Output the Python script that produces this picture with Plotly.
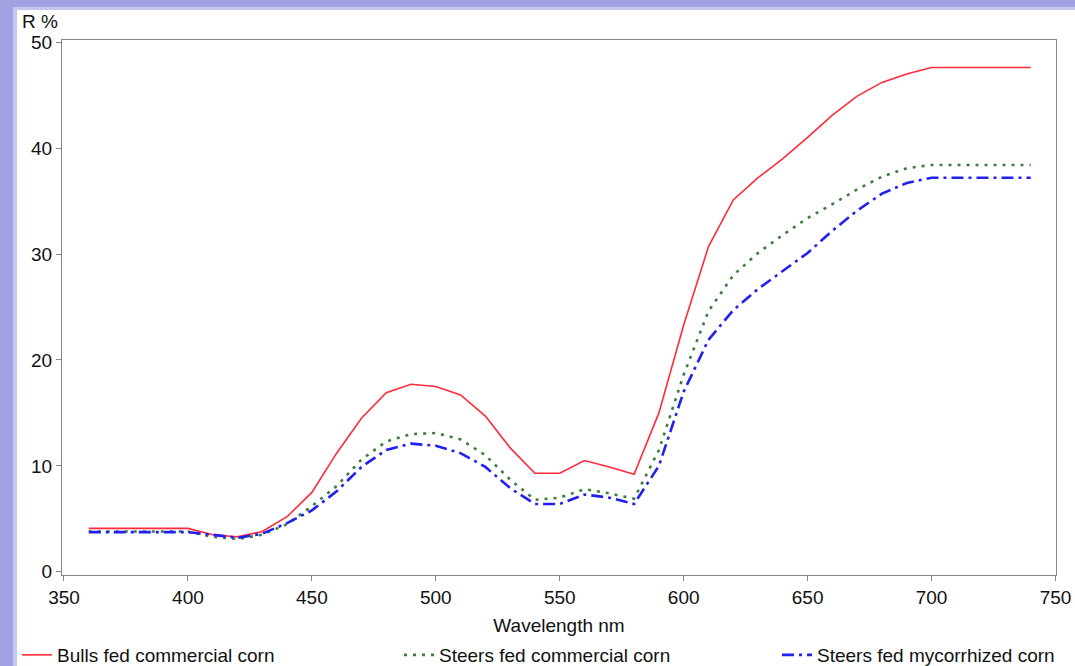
import plotly.graph_objects as go

wavelength = [360, 370, 380, 390, 400, 410, 420, 430, 440, 450, 460, 470, 480, 490, 500,
              510, 520, 530, 540, 550, 560, 570, 580, 590, 600, 610, 620, 630, 640, 650,
              660, 670, 680, 690, 700, 710, 720, 730, 740]

bulls_commercial = [4.1, 4.1, 4.1, 4.1, 4.1, 3.5, 3.3, 3.8, 5.2, 7.5, 11.2, 14.5, 16.9, 17.7, 17.5,
                    16.7, 14.7, 11.7, 9.3, 9.3, 10.5, 9.9, 9.2, 15.0, 23.3, 30.7, 35.1, 37.2, 39.0, 41.0,
                    43.1, 44.9, 46.2, 47.0, 47.6, 47.6, 47.6, 47.6, 47.6]

steers_commercial = [3.8, 3.8, 3.8, 3.8, 3.8, 3.3, 3.1, 3.5, 4.5, 6.2, 8.1, 10.6, 12.3, 13.0, 13.1,
                     12.5, 11.0, 8.7, 6.8, 7.0, 7.8, 7.4, 6.9, 11.5, 18.6, 24.6, 28.0, 30.1, 31.8, 33.4,
                     34.7, 36.1, 37.3, 38.1, 38.4, 38.4, 38.4, 38.4, 38.4]

steers_mycorrhized = [3.75, 3.75, 3.75, 3.75, 3.75, 3.5, 3.2, 3.6, 4.6, 5.8, 7.6, 9.9, 11.5, 12.1, 11.9,
                      11.2, 9.9, 7.9, 6.4, 6.4, 7.3, 7.0, 6.4, 10.0, 17.0, 21.9, 24.7, 26.7, 28.4, 30.1,
                      32.2, 34.1, 35.7, 36.7, 37.2, 37.2, 37.2, 37.2, 37.2]

series_names = ["Bulls fed commercial corn", "Steers fed commercial corn", "Steers fed mycorrhized corn"]
x_ticks = [350, 400, 450, 500, 550, 600, 650, 700, 750]
y_ticks = [0, 10, 20, 30, 40, 50]

FONT = "Liberation Sans, Arial, sans-serif"
FS = 19
W, H = 1075, 666

fig = go.Figure()
fig.add_trace(go.Scatter(x=wavelength, y=bulls_commercial, mode="lines", name=series_names[0],
                         line=dict(color="#ff2a3a", width=1.6), legend="legend"))
fig.add_trace(go.Scatter(x=wavelength, y=steers_commercial, mode="lines", name=series_names[1],
                         line=dict(color="#3d7d3d", width=2.6, dash="3px,6px"), legend="legend2"))
fig.add_trace(go.Scatter(x=wavelength, y=steers_mycorrhized, mode="lines", name=series_names[2],
                         line=dict(color="#2020f0", width=2.6, dash="12px,5px,3px,5px"), legend="legend3"))

# decorative frame (purple edge on left and top)
pw, ph = 1056 - 62, 575 - 40
def px(x):
    return (x - 62) / pw
def py(y):
    return (575 - y) / ph

shapes = [
    dict(type="rect", xref="paper", yref="paper", x0=px(0), x1=px(13), y0=py(H), y1=py(0),
         fillcolor="#a2a2e2", line=dict(width=0), layer="below"),
    dict(type="rect", xref="paper", yref="paper", x0=px(0), x1=px(W), y0=py(7), y1=py(0),
         fillcolor="#a2a2e2", line=dict(width=0), layer="below"),
    dict(type="rect", xref="paper", yref="paper", x0=px(13), x1=px(17), y0=py(H), y1=py(7),
         fillcolor="#c6c6f0", line=dict(width=0), layer="below"),
    dict(type="rect", xref="paper", yref="paper", x0=px(13), x1=px(W), y0=py(10), y1=py(7),
         fillcolor="#c6c6f0", line=dict(width=0), layer="below"),
]

def leg(xpix):
    return dict(orientation="h", xref="container", yref="container", x=xpix / W, xanchor="left",
                y=1 - 655 / H, yanchor="middle", font=dict(size=FS, family=FONT),
                bgcolor="rgba(0,0,0,0)", borderwidth=0)

fig.update_layout(
    template="none",
    width=W, height=H,
    margin=dict(l=62, r=19, t=40, b=91, autoexpand=False),
    paper_bgcolor="white", plot_bgcolor="white",
    font=dict(family=FONT, size=FS, color="#111111"),
    shapes=shapes,
    showlegend=True,
    legend=leg(17), legend2=leg(399), legend3=leg(777),
    annotations=[dict(text="R %", xref="paper", yref="paper", x=px(20), y=py(9),
                      xanchor="left", yanchor="top", showarrow=False, font=dict(size=FS))],
)

fig.update_xaxes(range=[349.2, 750.2], tickvals=x_ticks, ticktext=[str(v) for v in x_ticks],
                 automargin=False,
                 showgrid=False, zeroline=False, showline=True, linecolor="#888888", linewidth=1,
                 mirror=True, ticks="outside", ticklen=5, tickcolor="#888888",
                 title=dict(text="Wavelength nm", standoff=13, font=dict(size=FS)),
                 tickfont=dict(size=FS))
fig.update_yaxes(range=[-0.3, 50.2], tickvals=y_ticks, ticktext=[str(v) for v in y_ticks],
                 automargin=False,
                 showgrid=False, zeroline=False, showline=True, linecolor="#888888", linewidth=1,
                 mirror=True, ticks="outside", ticklen=5, tickcolor="#888888",
                 tickfont=dict(size=FS))

fig.write_html("out.html")
